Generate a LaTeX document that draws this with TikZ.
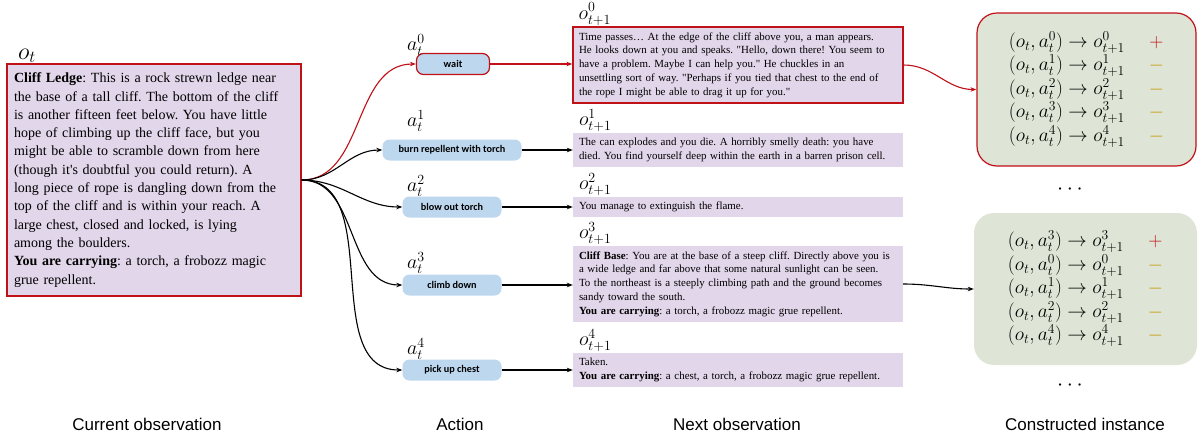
\RequirePackage{fix-cm}
\documentclass[tikz,border=0pt]{standalone}
\usepackage{fontspec}
\setmainfont{Liberation Serif}[Ligatures=TeXOff]
\setsansfont{Liberation Sans}
\newfontfamily\carl{Carlito}
\usetikzlibrary{arrows.meta}
\definecolor{obsfill}{RGB}{226,214,234}
\definecolor{actfill}{RGB}{189,215,238}
\definecolor{instfill}{RGB}{222,229,214}
\definecolor{redc}{RGB}{192,16,24}
\definecolor{goldc}{RGB}{196,150,0}
\tikzset{
  obsbox/.style={fill=obsfill, inner xsep=6pt, inner ysep=0pt, text width=318pt, minimum width=330pt, align=left, font=\fontsize{10.9}{13.8}\selectfont},
  actbox/.style={fill=actfill, rounded corners=7pt, inner sep=0pt, minimum height=21pt, font=\carl\bfseries\fontsize{10.2}{12}\selectfont},
  instbox/.style={fill=instfill, rounded corners=20pt, inner sep=0pt, font=\fontsize{19.5}{23.5}\selectfont},
  mlabel/.style={inner sep=0pt, anchor=south west, font=\fontsize{20}{22}\selectfont},
  caption/.style={font=\sffamily\fontsize{17}{20}\selectfont},
  redline/.style={draw=redc, line width=1.2pt},
  conn/.style={line width=1.1pt, -{Stealth[length=6pt,width=4.5pt]}},
  rconn/.style={conn, draw=redc},
}
\newcommand{\pl}{\textcolor{redc}{$+$}}
\newcommand{\mi}{\textcolor{goldc}{$-$}}
\frenchspacing
\begin{document}
\begin{tikzpicture}[x=1pt,y=-1pt]
\useasboundingbox (0,0) rectangle (1199,434);
% current observation
\node[fill=obsfill, redline, inner xsep=7pt, inner ysep=0pt, text width=280pt, minimum width=294pt, minimum height=232pt, font=\fontsize{14}{18.3}\selectfont] (cur) at (154,180)
{\frenchspacing\hyphenpenalty=10000\exhyphenpenalty=10000
\textbf{Cliff Ledge}: This is a rock strewn ledge near\linebreak
the base of a tall cliff. The bottom of the cliff\linebreak
is another fifteen feet below. You have little\linebreak
hope of climbing up the cliff face, but you\linebreak
might be able to scramble down from here\linebreak
(though it's doubtful you could return). A\linebreak
long piece of rope is dangling down from the\linebreak
top of the cliff and is within your reach. A\linebreak
large chest, closed and locked, is lying\linebreak
among the boulders.\\
\textbf{You are carrying}: a torch, a frobozz magic\linebreak
grue repellent.};
\node[mlabel, font=\fontsize{24}{26}\selectfont] (lot) at (18,63) {$o_t$};
% actions
\node[actbox, redline, minimum width=73pt] (a0) at (453,64) {wait};
\node[actbox, minimum width=139pt] (a1) at (452,150) {burn repellent with torch};
\node[actbox, minimum width=99pt] (a2) at (452,207) {blow out torch};
\node[actbox, minimum width=99pt] (a3) at (452,285) {climb down};
\node[actbox, minimum width=99pt] (a4) at (452,370) {pick up chest};
\node[mlabel] (la0) at (407,56) {$a_t^0$};
\node[mlabel] (la1) at (407,132) {$a_t^1$};
\node[mlabel] (la2) at (407,197) {$a_t^2$};
\node[mlabel] (la3) at (407,274) {$a_t^3$};
\node[mlabel] (la4) at (407,360) {$a_t^4$};
% next observations
\node[obsbox, redline, minimum height=76pt] (o0) at (738,65) {Time passes\dots\ At the edge of the cliff above you, a man appears.\\
He looks down at you and speaks. "Hello, down there! You seem to\\
have a problem. Maybe I can help you." He chuckles in an\\
unsettling sort of way. "Perhaps if you tied that chest to the end of\\
the rope I might be able to drag it up for you."};
\node[obsbox, minimum height=34pt] (o1) at (738,150) {The can explodes and you die. A horribly smelly death: you have\\
died. You find yourself deep within the earth in a barren prison cell.};
\node[obsbox, minimum height=20pt] (o2) at (738,207) {You manage to extinguish the flame.};
\node[obsbox, minimum height=76pt] (o3) at (738,284) {\textbf{Cliff Base}: You are at the base of a steep cliff. Directly above you is\\
a wide ledge and far above that some natural sunlight can be seen.\\
To the northeast is a steeply climbing path and the ground becomes\\
sandy toward the south.\\
\textbf{You are carrying}: a torch, a frobozz magic grue repellent.};
\node[obsbox, minimum height=34pt] (o4) at (738,370) {Taken.\\
\textbf{You are carrying}: a chest, a torch, a frobozz magic grue repellent.};
\node[mlabel] (lo0) at ([xshift=6pt,yshift=1pt]o0.north west) {$o_{t+1}^0$};
\node[mlabel] (lo1) at ([xshift=6pt,yshift=1pt]o1.north west) {$o_{t+1}^1$};
\node[mlabel] (lo2) at ([xshift=6pt,yshift=1pt]o2.north west) {$o_{t+1}^2$};
\node[mlabel] (lo3) at ([xshift=6pt,yshift=1pt]o3.north west) {$o_{t+1}^3$};
\node[mlabel] (lo4) at ([xshift=6pt,yshift=1pt]o4.north west) {$o_{t+1}^4$};
% constructed instances
\node[instbox, redline, minimum width=219pt, minimum height=153pt] (i1) at (1086.5,89.5)
{\begin{tabular}{@{}l@{\hspace{24pt}}c@{}}
$(o_t, a_t^0) \rightarrow o_{t+1}^0$ & \pl\\
$(o_t, a_t^1) \rightarrow o_{t+1}^1$ & \mi\\
$(o_t, a_t^2) \rightarrow o_{t+1}^2$ & \mi\\
$(o_t, a_t^3) \rightarrow o_{t+1}^3$ & \mi\\
$(o_t, a_t^4) \rightarrow o_{t+1}^4$ & \mi
\end{tabular}};
\node[instbox, minimum width=223pt, minimum height=152pt] (i2) at (1085.5,289)
{\begin{tabular}{@{}l@{\hspace{24pt}}c@{}}
$(o_t, a_t^3) \rightarrow o_{t+1}^3$ & \pl\\
$(o_t, a_t^0) \rightarrow o_{t+1}^0$ & \mi\\
$(o_t, a_t^1) \rightarrow o_{t+1}^1$ & \mi\\
$(o_t, a_t^2) \rightarrow o_{t+1}^2$ & \mi\\
$(o_t, a_t^4) \rightarrow o_{t+1}^4$ & \mi
\end{tabular}};
\node[font=\fontsize{22}{22}\selectfont] (d1) at (1070,190) {$\cdots$};
\node[font=\fontsize{22}{22}\selectfont] (d2) at (1070,386) {$\cdots$};
% connectors
\draw[rconn] (cur.east) to[out=0,in=180] (a0.west);
\draw[conn] (cur.east) to[out=0,in=180] (a1.west);
\draw[conn] (cur.east) to[out=0,in=180] (a2.west);
\draw[conn] (cur.east) to[out=0,in=180] (a3.west);
\draw[conn] (cur.east) to[out=0,in=180] (a4.west);
\draw[rconn] (a0.east) -- (a0.east -| o0.west);
\draw[conn] (a1.east) -- (a1.east -| o1.west);
\draw[conn] (a2.east) -- (a2.east -| o2.west);
\draw[conn] (a3.east) -- (a3.east -| o3.west);
\draw[conn] (a4.east) -- (a4.east -| o4.west);
\draw[rconn] (o0.east) to[out=0,in=180] (i1.west);
\draw[conn] (o3.east) to[out=0,in=180] (i2.west);
% captions
\node[caption] (c1) at (147,424) {Current observation};
\node[caption] (c2) at (460,424) {Action};
\node[caption] (c3) at (737,424) {Next observation};
\node[caption] (c4) at (1085,424) {Constructed instance};
\end{tikzpicture}
\end{document}
